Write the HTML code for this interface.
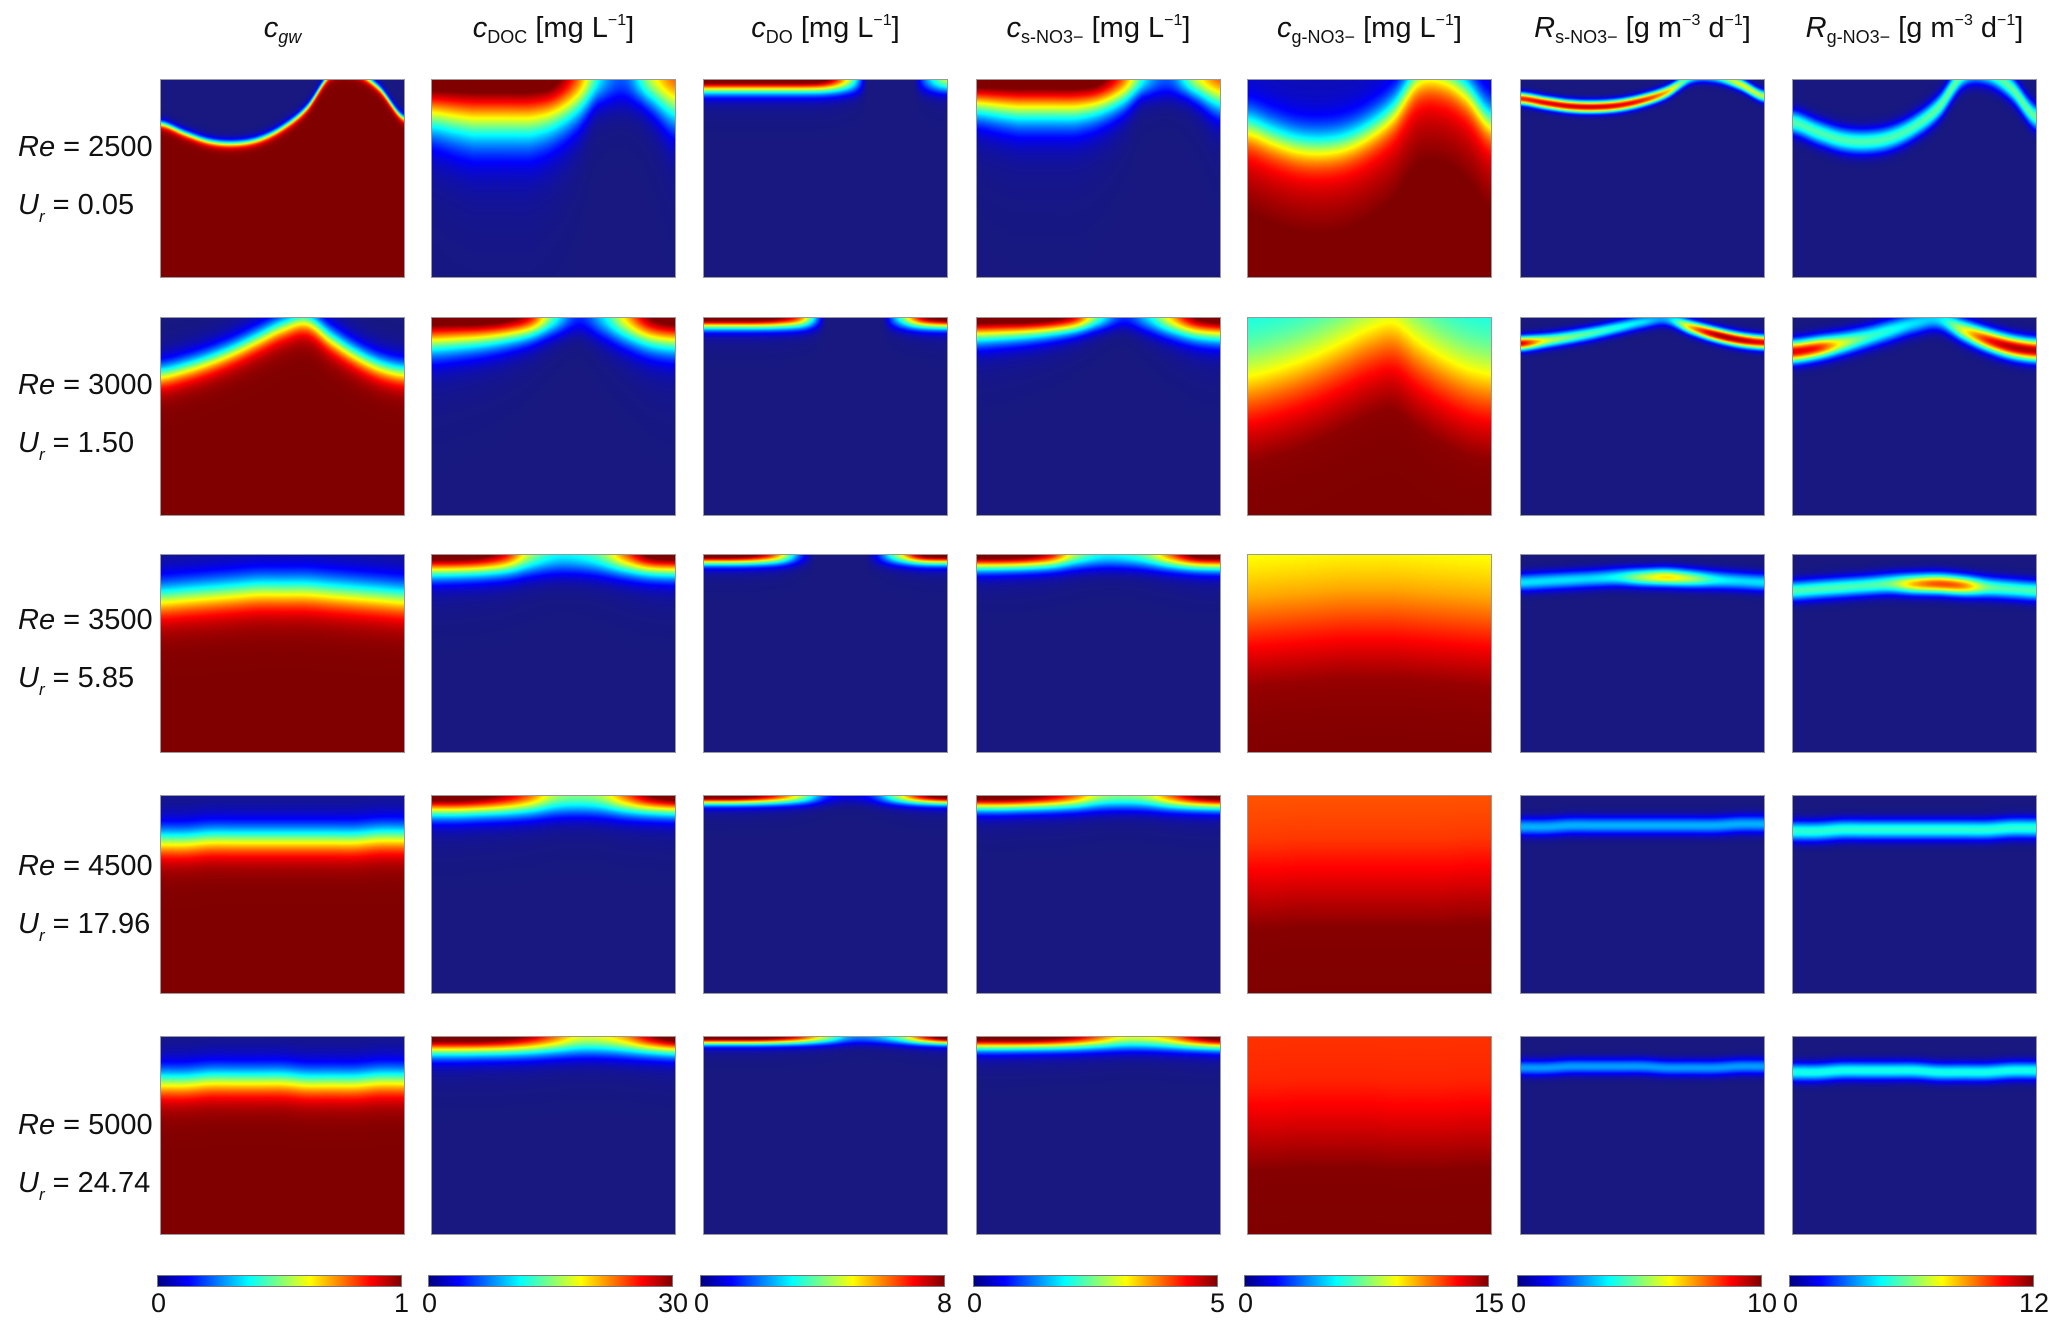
<!DOCTYPE html>
<html><head><meta charset="utf-8">
<style>
body{margin:0;background:#fff;}
#root{position:relative;width:2067px;height:1334px;overflow:hidden;background:#fff;font-family:"Liberation Sans",sans-serif;color:#111;}
.hdr{position:absolute;top:12px;width:243px;text-align:center;font-size:29px;white-space:nowrap;}
.hdr i{font-style:italic;}
.hdr sub{font-size:18px;vertical-align:-6px;}
.hdr sup{font-size:16px;vertical-align:12px;}
.rl{position:absolute;left:18px;font-size:29px;white-space:nowrap;}
.rl sub{font-size:17px;vertical-align:-8px;}
canvas.p{position:absolute;outline:1px solid #999;}
.cb{position:absolute;height:10px;width:243px;outline:1px solid #777;background:linear-gradient(to right,#000080,#0000ff 12.5%,#00ffff 37.5%,#ffff00 62.5%,#ff0000 87.5%,#800000);}
.tl{position:absolute;top:1288px;font-size:27px;}
</style></head>
<body>
<div id="root">
  <div class="hdr" style="left:161px"><i>c<sub>gw</sub></i></div>
  <div class="hdr" style="left:432px"><i>c</i><sub>DOC</sub> [mg L<sup>−1</sup>]</div>
  <div class="hdr" style="left:704px"><i>c</i><sub>DO</sub> [mg L<sup>−1</sup>]</div>
  <div class="hdr" style="left:977px"><i>c</i><sub>s-NO3−</sub> [mg L<sup>−1</sup>]</div>
  <div class="hdr" style="left:1248px"><i>c</i><sub>g-NO3−</sub> [mg L<sup>−1</sup>]</div>
  <div class="hdr" style="left:1521px"><i>R</i><sub>s-NO3−</sub> [g m<sup>−3</sup> d<sup>−1</sup>]</div>
  <div class="hdr" style="left:1793px"><i>R</i><sub>g-NO3−</sub> [g m<sup>−3</sup> d<sup>−1</sup>]</div>

  <div class="rl" style="top:131px"><i>Re</i> = 2500</div>
  <div class="rl" style="top:189px"><i>U<sub>r</sub></i> = 0.05</div>
  <div class="rl" style="top:369px"><i>Re</i> = 3000</div>
  <div class="rl" style="top:427px"><i>U<sub>r</sub></i> = 1.50</div>
  <div class="rl" style="top:604px"><i>Re</i> = 3500</div>
  <div class="rl" style="top:662px"><i>U<sub>r</sub></i> = 5.85</div>
  <div class="rl" style="top:850px"><i>Re</i> = 4500</div>
  <div class="rl" style="top:908px"><i>U<sub>r</sub></i> = 17.96</div>
  <div class="rl" style="top:1109px"><i>Re</i> = 5000</div>
  <div class="rl" style="top:1167px"><i>U<sub>r</sub></i> = 24.74</div>
</div>
<script>
// ---- data (sampled at u = 0,0.1,...,1 across each panel) ----
const frontDepth = [
  [0.22,0.27,0.31,0.32,0.30,0.24,0.14,-0.03,-0.04,0.04,0.19],
  [0.28,0.25,0.21,0.16,0.10,0.04,0.01,0.10,0.18,0.24,0.27],
  [0.21,0.20,0.19,0.18,0.17,0.17,0.17,0.18,0.19,0.20,0.21],
  [0.22,0.22,0.21,0.21,0.21,0.21,0.21,0.21,0.21,0.20,0.20],
  [0.22,0.22,0.21,0.21,0.21,0.21,0.22,0.22,0.22,0.21,0.21]
];
const frontWidth = [0.012,0.04,0.06,0.05,0.05];
const surfaceAmp = [
  [1,1,1,1,1,0.95,0.7,0.3,0.2,0.5,0.7],
  [1,1,1,0.95,0.8,0.4,0.15,0.3,0.6,0.9,1],
  [1,1,0.95,0.8,0.5,0.35,0.35,0.45,0.7,0.95,1],
  [1,1,0.95,0.85,0.7,0.5,0.45,0.5,0.7,0.9,1],
  [1,1,1,0.95,0.85,0.7,0.55,0.55,0.65,0.85,1]
];
const gTopValue = [0.05,0.36,0.56,0.78,0.82];
const rsBandAmp = [
  [0.85,0.9,0.92,0.92,0.9,0.85,0.7,0.4,0.4,0.6,0.55],
  [0.9,0.6,0.5,0.45,0.4,0.35,0.3,0.7,0.95,0.95,0.9],
  [0.35,0.35,0.35,0.35,0.4,0.55,0.65,0.55,0.4,0.35,0.35],
  [0.3,0.3,0.3,0.3,0.3,0.3,0.3,0.3,0.3,0.3,0.3],
  [0.28,0.28,0.28,0.28,0.28,0.28,0.28,0.28,0.28,0.28,0.28]
];
const rgBandAmp = [
  [0.45,0.45,0.45,0.45,0.45,0.45,0.47,0.47,0.45,0.47,0.47],
  [0.9,0.85,0.6,0.45,0.4,0.35,0.35,0.6,0.85,0.95,0.95],
  [0.45,0.45,0.45,0.45,0.5,0.7,0.8,0.75,0.5,0.45,0.45],
  [0.42,0.42,0.42,0.42,0.42,0.42,0.42,0.42,0.42,0.42,0.42],
  [0.4,0.4,0.4,0.4,0.4,0.4,0.4,0.4,0.4,0.4,0.4]
];
const colorbarMax = ['1','30','8','5','15','10','12'];
// ---- model shape parameters (style) ----
const docDepth = [0.27,0.16,0.12,0.11,0.1];
const doDepth = [0.06,0.05,0.045,0.04,0.035];
const rsOffset = [0.42,0.45,0.65,0.7,0.7];
const rsWidth = [0.03,0.035,0.045,0.045,0.04];
const rgOffset = [0.97,0.6,0.85,0.8,0.8];
const rgWidth = [0.06,0.055,0.05,0.05,0.045];

const colX=[161,432,704,977,1248,1521,1793], rowY=[80,318,555,796,1037], PW=243, PH=197;
const root=document.getElementById('root');
function interp(arr,u){const n=arr.length-1;const t=u*n;const i=Math.min(n-1,Math.floor(t));const f=t-i;
  const p0=arr[Math.max(0,i-1)],p1=arr[i],p2=arr[i+1],p3=arr[Math.min(n,i+2)];
  return 0.5*((2*p1)+(-p0+p2)*f+(2*p0-5*p1+4*p2-p3)*f*f+(-p0+3*p1-3*p2+p3)*f*f*f);}
function cl(x){return x<0?0:x>1?1:x;}
function sig(x){return 1/(1+Math.exp(-x));}
function jet(t){t=cl(t);let r=cl(1.5-Math.abs(4*t-3)),g=cl(1.5-Math.abs(4*t-2)),b=cl(1.5-Math.abs(4*t-1));
  let R=r*255,G=g*255,B=b*255;const k=Math.max(0,1-t*8);R=Math.max(R,24*k);G=Math.max(G,24*k);B=Math.max(B,125*k);
  if(t>0.9){R=Math.min(R,128+(1-t)*1200);}
  return [R,G,B];}
function prof(v,L){const g=Math.exp(-(v/L)*(v/L));return 0.75*g+0.25*Math.exp(-v/(L*0.9));}
function value(col,row,u,v){
  const f=interp(frontDepth[row],u), w=frontWidth[row];
  const s=sig((v-f)/w);
  const a=interp(surfaceAmp[row],u);
  const ls=0.45+0.55*cl(f/0.3);
  switch(col){
    case 0: return s;
    case 1: return cl(1.1*a*prof(v,docDepth[row]*ls));
    case 2: return cl(1.1*cl((a-0.4)/0.6)*prof(v,doDepth[row]));
    case 3: return cl(1.1*a*prof(v,0.7*docDepth[row]*ls));
    case 4: {const s5=sig((v-f)/(w*2+0.04));return gTopValue[row]*(1-s5)+s5*(0.86+0.14*cl((v-f)*2.2));}
    case 5: {const c=f*rsOffset[row];const d=(v-c)/rsWidth[row];return interp(rsBandAmp[row],u)*Math.exp(-d*d);}
    case 6: {const c=f*rgOffset[row];const d=(v-c)/rgWidth[row];return interp(rgBandAmp[row],u)*Math.exp(-d*d);}
  }
}
for(let r=0;r<5;r++)for(let c=0;c<7;c++){
  const cv=document.createElement('canvas');
  cv.className='p';cv.width=PW;cv.height=PH;
  cv.style.left=colX[c]+'px';cv.style.top=rowY[r]+'px';
  
  
  const ctx=cv.getContext('2d');const img=ctx.createImageData(PW,PH);
  for(let y=0;y<PH;y++)for(let x=0;x<PW;x++){
    const [R,G,B]=jet(value(c,r,x/(PW-1),y/PH));const i=(y*PW+x)*4;
    img.data[i]=R;img.data[i+1]=G;img.data[i+2]=B;img.data[i+3]=255;}
  ctx.putImageData(img,0,0);root.appendChild(cv);
}
for(let c=0;c<7;c++){
  const cb=document.createElement('div');cb.className='cb';
  cb.style.left=(colX[c]-3)+'px';cb.style.top='1276px';
  
  
  root.appendChild(cb);
  const l0=document.createElement('div');l0.className='tl';l0.textContent='0';
  l0.style.left=(colX[c]-10)+'px';
  
  
  root.appendChild(l0);
  const l1=document.createElement('div');l1.className='tl';l1.textContent=colorbarMax[c];
  l1.style.left=(colX[c]+240-7*colorbarMax[c].length)+'px';
  
  
  root.appendChild(l1);
}
</script>
</body></html>
